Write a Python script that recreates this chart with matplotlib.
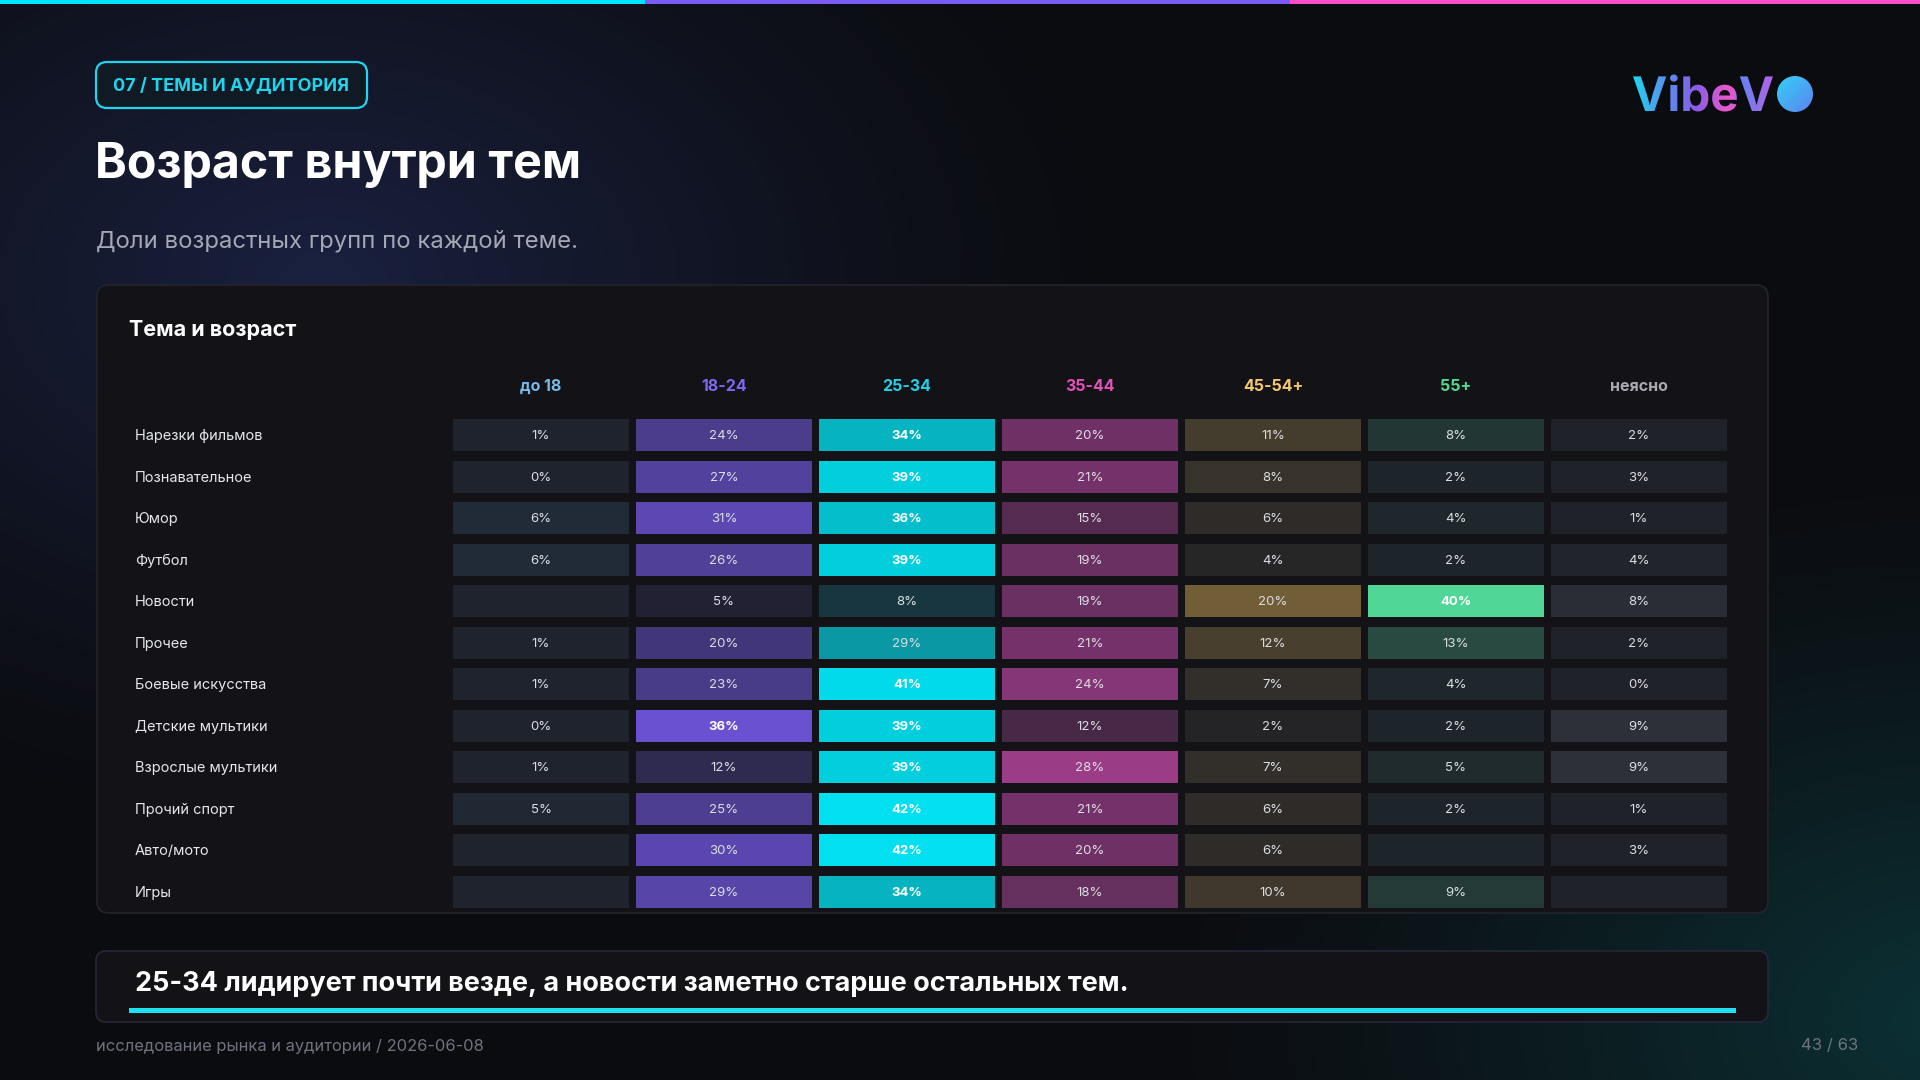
import numpy as np
import matplotlib
matplotlib.use('Agg')
import matplotlib.pyplot as plt
from matplotlib.patches import FancyBboxPatch, Rectangle, Circle, PathPatch
from matplotlib.textpath import TextPath
from matplotlib.font_manager import FontProperties
from matplotlib.colors import to_rgb, LinearSegmentedColormap
from matplotlib.transforms import Affine2D

plt.rcParams['font.family'] = ['Inter', 'DejaVu Sans']

W, H = 1920, 1080

# данные: доли возрастных групп по темам (%), None = нет данных
topics = ['Нарезки фильмов', 'Познавательное', 'Юмор', 'Футбол', 'Новости', 'Прочее',
          'Боевые искусства', 'Детские мультики', 'Взрослые мультики', 'Прочий спорт',
          'Авто/мото', 'Игры']
ages = ['до 18', '18-24', '25-34', '35-44', '45-54+', '55+', 'неясно']
u18 = [1, 0, 6, 6, None, 1, 1, 0, 1, 5, None, None]
a1824 = [24, 27, 31, 26, 5, 20, 23, 36, 12, 25, 30, 29]
a2534 = [34, 39, 36, 39, 8, 29, 41, 39, 39, 42, 42, 34]
a3544 = [20, 21, 15, 19, 19, 21, 24, 12, 28, 21, 20, 18]
a4554 = [11, 8, 6, 4, 20, 12, 7, 2, 7, 6, 6, 10]
a55 = [8, 2, 4, 2, 40, 13, 4, 2, 5, 2, None, 9]
unk = [2, 3, 1, 4, 8, 2, 0, 9, 9, 1, 3, None]
columns = [u18, a1824, a2534, a3544, a4554, a55, unk]

cell_colors = ['#60b8f5', '#7b5cf5', '#00e0f0', '#f050c8', '#f7c150', '#53e29e', '#9aa0ac']
header_colors = ['#7ab8e8', '#7b68ee', '#22cfe6', '#e052b8', '#f5c870', '#52d892', '#a8a9b0']

fig = plt.figure(figsize=(19.2, 10.8), dpi=100)

# фон в пиксельных координатах
ax = fig.add_axes([0, 0, 1, 1])
ax.set_xlim(0, W)
ax.set_ylim(H, 0)
ax.axis('off')

yy, xx = np.mgrid[0:H, 0:W].astype(np.float32)
base = np.array(to_rgb('#0b0c10'), dtype=np.float32)
navy = np.array(to_rgb('#1a2140'), dtype=np.float32)
teal = np.array(to_rgb('#0c3236'), dtype=np.float32)
w1 = np.clip(1 - np.sqrt(((xx - 320) / 820) ** 2 + ((yy - 280) / 560) ** 2), 0, 1) ** 1.3
w2 = np.clip(1 - np.sqrt(((xx - 1960) / 820) ** 2 + ((yy - 1020) / 560) ** 2), 0, 1) ** 1.3
img = base + w1[..., None] * (navy - base) + w2[..., None] * (teal - base)
ax.imshow(np.clip(img, 0, 1), extent=(0, W, H, 0), aspect='auto', zorder=0)

# верхняя полоса
for x0, x1, c in [(0, 645, '#00e5ff'), (645, 1290, '#7a5cf5'), (1290, W, '#ff4fc8')]:
    ax.add_patch(Rectangle((x0, 0), x1 - x0, 4, fc=c, lw=0, zorder=2))

# бейдж
ax.add_patch(FancyBboxPatch((96, 62), 271, 46, boxstyle='round,pad=0,rounding_size=11',
                            fc='#0f1a24', ec='#22d3ee', lw=1.6, zorder=2))
ax.text(231, 85.5, '07 / ТЕМЫ И АУДИТОРИЯ', ha='center', va='center', color='#22d3ee',
        fontsize=13, fontweight='bold', zorder=3)

ax.text(95, 178, 'Возраст внутри тем', ha='left', va='baseline', color='white',
        fontsize=34.8, fontweight='bold', zorder=3)
ax.text(96, 241, 'Доли возрастных групп по каждой теме.', ha='left', va='center',
        color='#a4a8b4', fontsize=17.2, zorder=3)

# логотип с градиентом
fp = FontProperties(family='Inter', weight='bold')
tp = TextPath((0, 0), 'VibeV', size=50, prop=fp)
ext = tp.get_extents()
sc = 140 / ext.width
tr = Affine2D().translate(-ext.x0, 0).scale(sc, -sc).translate(1633, 111) + ax.transData
logo = PathPatch(tp, transform=tr, fc='none', lw=0, zorder=3)
ax.add_patch(logo)
logo_cmap = LinearSegmentedColormap.from_list('logo', [
    (0.0, '#22d3ee'), (0.25, '#5b8cf0'), (0.45, '#8a5ce8'), (0.66, '#e458cf'),
    (0.72, '#e458cf'), (0.76, '#5f86f2'), (1.0, '#b462e6')])
grad = np.linspace(0, 1, 256)[None, :]
gi = ax.imshow(grad, cmap=logo_cmap, extent=(1633, 1773, 115, 70), aspect='auto', zorder=3)
gi.set_clip_path(logo)
circ = Circle((1795, 94), 18, fc='none', lw=0, zorder=3)
ax.add_patch(circ)
cgrad = (np.linspace(0, 1, 64)[None, :] + np.linspace(0, 1, 64)[:, None]) / 2
ci = ax.imshow(cgrad, cmap=LinearSegmentedColormap.from_list('c', ['#35d0f8', '#5a84f0']),
               extent=(1777, 1813, 112, 76), aspect='auto', zorder=3)
ci.set_clip_path(circ)

# карточка
ax.add_patch(FancyBboxPatch((97, 285), 1671, 628, boxstyle='round,pad=0,rounding_size=12',
                            fc='#131317', ec='#23242c', lw=1.2, zorder=1))
ax.text(129, 329.5, 'Тема и возраст', ha='left', va='center', color='white',
        fontsize=15.5, fontweight='bold', zorder=3)

# вывод
ax.add_patch(FancyBboxPatch((96, 951), 1672, 71, boxstyle='round,pad=0,rounding_size=10',
                            fc='#131317', ec='#27263a', lw=1.2, zorder=1))
ax.text(135, 984, '25-34 лидирует почти везде, а новости заметно старше остальных тем.',
        ha='left', va='center', color='white', fontsize=19.45, fontweight='bold', zorder=3)
ax.add_patch(Rectangle((129, 1008), 1607, 4.5, fc='#1ee0f0', lw=0, zorder=3))

ax.text(96, 1046, 'исследование рынка и аудитории / 2026-06-08', ha='left', va='center',
        color='#6f7380', fontsize=11.9, zorder=3)
ax.text(1858, 1046, '43 / 63', ha='right', va='center', color='#6f7380', fontsize=12, zorder=3)

# тепловая карта
hx0, hx1, hy0, hy1 = 449.5, 1730.5, 414.5, 912.5
hax = fig.add_axes([hx0 / W, 1 - hy1 / H, (hx1 - hx0) / W, (hy1 - hy0) / H])
hax.set_xlim(-0.5, len(ages) - 0.5)
hax.set_ylim(len(topics) - 0.5, -0.5)
hax.axis('off')
hax.patch.set_alpha(0)

bg_cell = np.array(to_rgb('#1b1d25'))
vmax = 42
cw, ch = 0.962, 0.78
dy = 0.03
for j, (vals, col) in enumerate(zip(columns, cell_colors)):
    c = np.array(to_rgb(col))
    for i, v in enumerate(vals):
        t = 0.04 if v is None else max(0.04, (v / vmax) ** 1.25)
        fc = bg_cell + (c - bg_cell) * t
        hax.add_patch(Rectangle((j - cw / 2, i - ch / 2), cw, ch, fc=fc, lw=0))
        if v is not None:
            strong = v / vmax >= 0.8
            hax.text(j, i + dy, f'{v}%', ha='center', va='center', fontsize=9.5,
                     color='white' if strong else '#dcdde3',
                     fontweight='bold' if strong else 'normal')
    hax.text(j, -1.17, ages[j], ha='center', va='center', fontsize=11.5, fontweight='bold',
             color=header_colors[j], clip_on=False)

for i, name in enumerate(topics):
    hax.text(-2.219, i + dy, name, ha='left', va='center', fontsize=10.5, color='#e4e6ec',
             clip_on=False)

fig.savefig('out.png', dpi=100, facecolor='#0b0c10')
